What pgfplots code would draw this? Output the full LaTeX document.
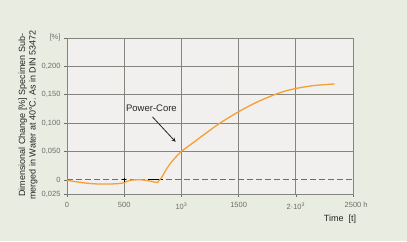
\documentclass[border=0pt]{standalone}
\usepackage{pgfplots}
\pgfplotsset{compat=1.18}
\usepackage{fontspec}
\setmainfont{Liberation Sans}
\definecolor{outerbg}{HTML}{E8ECE1}
\definecolor{innerbg}{HTML}{F1F0EE}
\definecolor{gridc}{HTML}{85857F}
\definecolor{tickc}{HTML}{6E6E6A}
\definecolor{curve}{HTML}{F5A032}
\begin{document}
\begin{tikzpicture}[x=1pt,y=1pt]
\fill[outerbg] (0,0) rectangle (407,241);
\useasboundingbox (0,0) rectangle (407,241);
\begin{axis}[
  scale only axis,
  width=286pt, height=156pt,
  at={(67pt,47pt)}, anchor=south west,
  xmin=0, xmax=2500, ymin=-0.025, ymax=0.25,
  axis background/.style={fill=innerbg},
  axis line style={draw=gridc, line width=0.7pt},
  xtick={0,500,1000,1500,2000,2500},
  xticklabels={0,500,10\textsuperscript{3},1500,2·10\textsuperscript{3},2500\rlap{ h}},
  ytick={-0.025,0,0.05,0.1,0.15,0.2,0.25},
  yticklabels={{0,025},{0},{0,050},{0,100},{0,150},{0,200},{[\%]}},
  xmajorgrids,
  extra y ticks={0.05,0.1,0.15,0.2},
  extra y tick labels={},
  extra y tick style={ymajorgrids=true, major tick length=0pt},
  grid style={draw=gridc, line width=0.7pt},
  tick align=outside,
  major tick length=3pt,
  xtick pos=bottom, ytick pos=left,
  tick style={draw=tickc, line width=0.6pt},
  ticklabel style={font=\fontsize{7.5}{8}\selectfont, text=tickc},
  xticklabel style={yshift=-2pt},
  clip=false,
]
\draw[tickc, line width=0.7pt, dash pattern=on 6pt off 3pt] (axis cs:0,0) -- (axis cs:2500,0);
\addplot[black, line width=1pt] coordinates {(705,0) (835,0)};
\addplot[black, only marks, mark=+, mark size=2.2pt, mark options={line width=0.8pt}] coordinates {(500,0)};
\addplot[curve, line width=1.3pt, smooth, tension=0.5] coordinates {
 (0,-0.001) (100,-0.004) (200,-0.0065) (300,-0.0075) (400,-0.0072) (480,-0.006)
 (520,-0.003) (570,-0.0004) (650,0) (720,-0.002) (790,-0.005)};
\addplot[curve, line width=1.3pt, smooth, tension=0.5] coordinates {
 (790,-0.005) (830,0.005) (870,0.019) (920,0.033) (1000,0.05) (1100,0.065)
 (1200,0.08) (1330,0.099) (1500,0.12) (1650,0.136) (1800,0.149) (1900,0.156)
 (2000,0.161) (2150,0.166) (2340,0.169)};
\node[font=\fontsize{9.5}{11}\selectfont, text=black!85] at (axis cs:738,0.126) {Power-Core};
\draw[-stealth, line width=0.8pt, black!85] (axis cs:747,0.111) -- (axis cs:949,0.067);
\end{axis}
\node[rotate=90, align=center, font=\fontsize{9}{10.5}\selectfont, text=black!85] at (28,126)
  {Dimensional Change [\%] Specimen Sub-\\merged in Water at 40°C. As in DIN 53472};
\node[font=\fontsize{9}{10}\selectfont, text=black!85] at (340,22) {Time\ \ [t]};
\end{tikzpicture}
\end{document}
